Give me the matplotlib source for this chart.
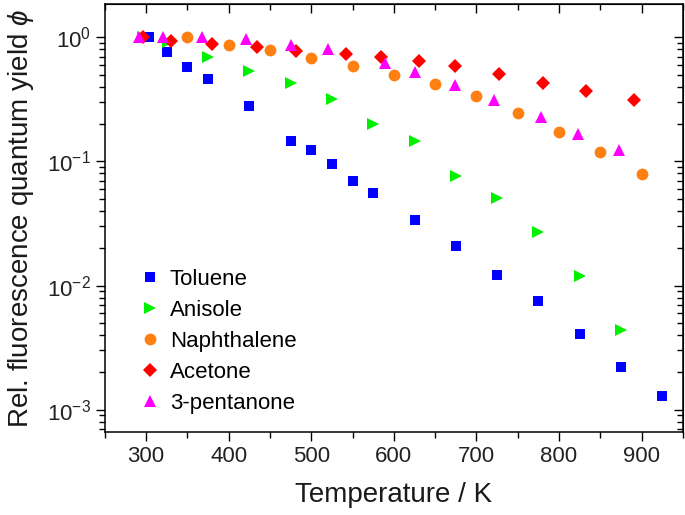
import numpy as np
import matplotlib.pyplot as plt
from matplotlib.ticker import MultipleLocator, LogLocator, NullFormatter

plt.rcParams['font.family'] = ['Liberation Sans', 'DejaVu Sans']
plt.rcParams['mathtext.fontset'] = 'custom'
plt.rcParams['mathtext.rm'] = 'Liberation Sans'
plt.rcParams['mathtext.it'] = 'Liberation Sans:italic'

# data
toluene_T = [303, 325, 350, 375, 425, 475, 500, 525, 550, 575, 625, 675, 725, 775, 825, 875, 925]
toluene_phi = [1.0, 0.76, 0.58, 0.46, 0.28, 0.145, 0.123, 0.095, 0.07, 0.056,
               0.034, 0.0207, 0.0121, 0.0075, 0.0041, 0.0022, 0.0013]

anisole_T = [296, 327, 375, 425, 475, 525, 575, 625, 675, 725, 775, 825, 875]
anisole_phi = [1.0, 0.92, 0.69, 0.54, 0.43, 0.32, 0.20, 0.145, 0.077, 0.051, 0.027, 0.012, 0.0044]

naph_T = [350, 400, 450, 500, 550, 600, 650, 700, 750, 800, 850, 900]
naph_phi = [1.0, 0.87, 0.79, 0.68, 0.59, 0.50, 0.42, 0.334, 0.244, 0.171, 0.118, 0.079]

acetone_T = [296, 330, 380, 434, 481, 542, 584, 630, 674, 727, 781, 833, 891]
acetone_phi = [1.0, 0.93, 0.89, 0.84, 0.78, 0.73, 0.69, 0.64, 0.59, 0.51, 0.43, 0.37, 0.31]

pent_T = [292, 320, 368, 421, 476, 520, 589, 626, 674, 721, 778, 823, 873]
pent_phi = [1.0, 1.01, 1.01, 0.96, 0.86, 0.80, 0.62, 0.53, 0.41, 0.31, 0.226, 0.165, 0.123]

fig = plt.figure(figsize=(6.85, 5.15), dpi=100)
ax = fig.add_axes([0.153, 0.161, 0.844, 0.831])

ax.plot(toluene_T, toluene_phi, 's', color='#0000FF', ms=7.2, mew=0, label='Toluene')
ax.plot(anisole_T, anisole_phi, '>', color='#00F000', ms=9, mew=0, label='Anisole')
ax.plot(naph_T, naph_phi, 'o', color='#FF8012', ms=8.5, mew=0, label='Naphthalene')
ax.plot(acetone_T, acetone_phi, 'D', color='#FF0000', ms=6.8, mew=0, label='Acetone')
ax.plot(pent_T, pent_phi, '^', color='#FF00FF', ms=9, mew=0, label='3-pentanone')

ax.set_yscale('log')
ax.set_xlim(250, 950)
ax.set_ylim(6.6e-4, 1.85)
ax.xaxis.set_major_locator(MultipleLocator(100))
ax.xaxis.set_minor_locator(MultipleLocator(50))
ax.yaxis.set_major_locator(LogLocator(base=10, numticks=10))
ax.yaxis.set_minor_locator(LogLocator(base=10, subs=np.arange(2, 10), numticks=10))
ax.yaxis.set_minor_formatter(NullFormatter())

ax.tick_params(which='major', direction='out', length=6.5, width=1, labelsize=16, labelcolor='#222222')
ax.tick_params(which='minor', direction='out', length=4, width=1)
for sp in ax.spines.values():
    sp.set_linewidth(1.1)

# mirrored ticks pointing inward on top and right
top = ax.secondary_xaxis('top')
top.xaxis.set_major_locator(MultipleLocator(100))
top.xaxis.set_minor_locator(MultipleLocator(50))
top.tick_params(which='major', direction='in', length=6.5, width=1, labeltop=False)
top.tick_params(which='minor', direction='in', length=4, width=1)
right = ax.secondary_yaxis('right')
right.yaxis.set_major_locator(LogLocator(base=10, numticks=10))
right.yaxis.set_minor_locator(LogLocator(base=10, subs=np.arange(2, 10), numticks=10))
right.tick_params(which='major', direction='in', length=6.5, width=1, labelright=False)
right.tick_params(which='minor', direction='in', length=4, width=1, labelright=False)

ax.set_xlabel('Temperature / K', fontsize=20, labelpad=11, color='#1a1a1a')
ax.set_ylabel(r'Rel. fluorescence quantum yield $\phi$', fontsize=20, labelpad=8, color='#1a1a1a')

ax.legend(loc='lower left', bbox_to_anchor=(0.02, -0.005), frameon=False, fontsize=16,
          handletextpad=0.3, labelspacing=0.45, handlelength=1.2)

plt.savefig('out.png', dpi=100)
